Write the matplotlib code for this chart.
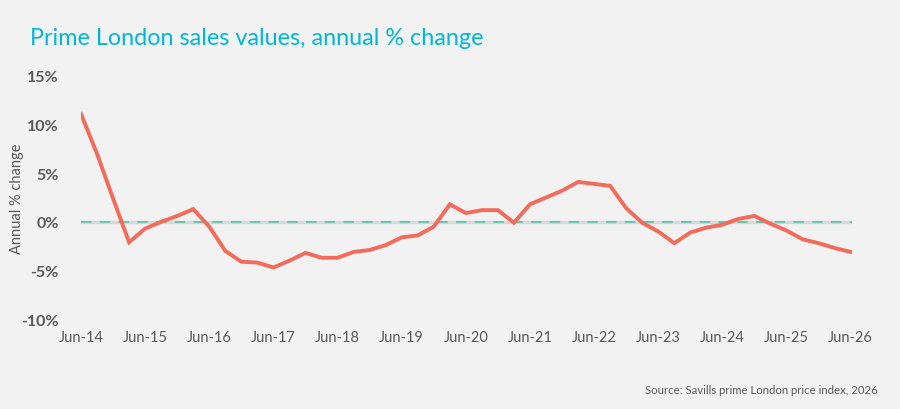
import matplotlib.pyplot as plt

# quarterly series, Jun-14 to Jun-26
quarters = list(range(49))
values = [11.1, 7.0, 2.4, -2.1, -0.7, 0.0, 0.6, 1.3, -0.5, -3.0,
          -4.1, -4.2, -4.7, -4.0, -3.2, -3.7, -3.7, -3.1, -2.9, -2.4,
          -1.6, -1.4, -0.5, 1.8, 0.9, 1.2, 1.2, -0.1, 1.8, 2.5,
          3.2, 4.1, 3.9, 3.7, 1.4, -0.1, -1.0, -2.2, -1.1, -0.6,
          -0.3, 0.3, 0.6, -0.2, -0.9, -1.8, -2.2, -2.7, -3.1]
tick_labels = ["Jun-14", "Jun-15", "Jun-16", "Jun-17", "Jun-18", "Jun-19", "Jun-20",
               "Jun-21", "Jun-22", "Jun-23", "Jun-24", "Jun-25", "Jun-26"]
y_ticks = [-10, -5, 0, 5, 10, 15]

bg = "#f2f2f2"
grey = "#595959"
plt.rcParams["font.family"] = ["Lato", "DejaVu Sans"]

fig = plt.figure(figsize=(9, 4.1), dpi=100, facecolor=bg)
ax = fig.add_axes([0.09, 0.2195, 0.857, 0.5927], facecolor=bg)

ax.axhline(0, color="#d9d9d9", lw=2.5, zorder=1)
ax.axhline(0, color="#6cc5b0", lw=1.5, dashes=(5, 4), zorder=2)
ax.plot(quarters, values, color="#f26b5b", lw=2.8, solid_joinstyle="miter", zorder=3)

ax.set_xlim(0, 48.1)
ax.set_ylim(-10, 15)
ax.set_xticks(quarters[::4])
ax.set_xticklabels(tick_labels, fontsize=10.5, color=grey)
ax.set_yticks(y_ticks)
ax.set_yticklabels([f"{v}%" for v in y_ticks], fontsize=11.5, fontweight="bold", color=grey)
ax.tick_params(length=0, pad=8)
ax.tick_params(axis="y", pad=16)
for s in ax.spines.values():
    s.set_visible(False)
ax.set_ylabel("Annual % change", fontsize=10.5, color=grey)
ax.yaxis.set_label_coords(-0.074, 0.5)

fig.text(0.033, 0.905, "Prime London sales values, annual % change",
         fontsize=16.8, color="#00b8d9", va="center")
fig.text(0.975, 0.048, "Source: Savills prime London price index, 2026",
         fontsize=8.2, color=grey, ha="right", va="center")

fig.savefig("out.png", dpi=100, facecolor=bg)
